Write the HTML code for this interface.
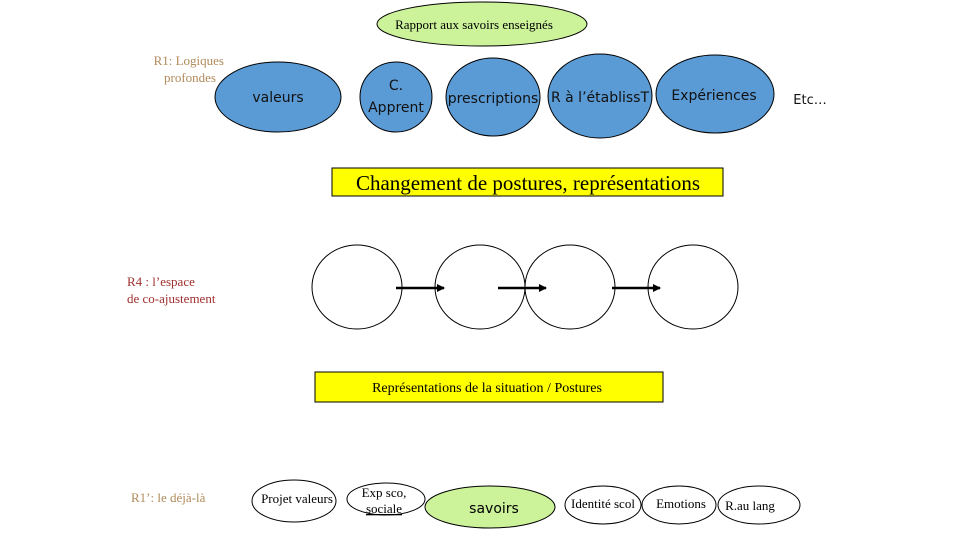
<!DOCTYPE html>
<html><head><meta charset="utf-8"><style>
html,body{margin:0;padding:0;background:#fff;}
svg{display:block;}
.s{font-family:"Liberation Serif",serif;}
.a{font-family:"DejaVu Sans","Liberation Sans",sans-serif;}
</style></head><body>
<svg width="960" height="540" viewBox="0 0 960 540" xmlns="http://www.w3.org/2000/svg">
<defs><marker id="ar" markerWidth="8" markerHeight="8" refX="7" refY="4" orient="auto" markerUnits="userSpaceOnUse"><path d="M0,0 L8,4 L0,8 z" fill="#000"/></marker></defs>
<ellipse cx="482" cy="24" rx="105" ry="22" fill="#ccf29a" stroke="#000" stroke-width="1"/>
<text x="474" y="29" class="s" font-size="13" text-anchor="middle">Rapport aux savoirs enseignés</text>
<text x="224" y="65" class="s" font-size="13" fill="#b08a5a" text-anchor="end">R1: Logiques</text>
<text x="216" y="82" class="s" font-size="13" fill="#b08a5a" text-anchor="end">profondes</text>
<g fill="#5b9bd5" stroke="#000" stroke-width="1">
<ellipse cx="278" cy="97" rx="63" ry="35"/>
<ellipse cx="396" cy="97" rx="36" ry="35"/>
<ellipse cx="493" cy="97" rx="47" ry="39"/>
<ellipse cx="600" cy="96" rx="52" ry="42"/>
<ellipse cx="715" cy="94" rx="59" ry="39"/>
</g>
<g class="a" font-size="14" fill="#111" text-anchor="middle">
<text x="278" y="102">valeurs</text>
<text x="396" y="90">C.</text>
<text x="396" y="112">Apprent</text>
<text x="493" y="103">prescriptions</text>
<text x="600" y="102">R à l’établissT</text>
<text x="714" y="100">Expériences</text>
<text x="810" y="104" font-size="13">Etc…</text>
</g>
<rect x="332" y="168" width="391" height="28" fill="#ffff00" stroke="#000" stroke-width="1"/>
<text x="528" y="190" class="s" font-size="21" text-anchor="middle">Changement de postures,  représentations</text>
<text x="127" y="286" class="s" font-size="13" fill="#a0302f">R4 : l’espace</text>
<text x="127" y="303" class="s" font-size="13" fill="#a0302f">de co-ajustement</text>
<g fill="none" stroke="#000" stroke-width="1">
<ellipse cx="357" cy="287" rx="45" ry="42"/>
<ellipse cx="480" cy="287" rx="45" ry="42"/>
<ellipse cx="570" cy="287" rx="45" ry="42"/>
<ellipse cx="693" cy="287" rx="45" ry="42"/>
</g>
<g stroke="#000" stroke-width="2.5" marker-end="url(#ar)">
<line x1="396" y1="288" x2="444" y2="288"/>
<line x1="498" y1="288" x2="546" y2="288"/>
<line x1="612" y1="288" x2="660" y2="288"/>
</g>
<rect x="315" y="372" width="348" height="30" fill="#ffff00" stroke="#000" stroke-width="1"/>
<text x="487" y="392" class="s" font-size="14" text-anchor="middle">Représentations de la situation /  Postures</text>
<text x="131" y="502" class="s" font-size="13" fill="#b08a5a">R1’: le déjà-là</text>
<g stroke="#000" stroke-width="1" fill="#fff">
<ellipse cx="294" cy="501" rx="42" ry="21"/>
<ellipse cx="386" cy="499" rx="39" ry="16"/>
<ellipse cx="490" cy="507" rx="65" ry="21" fill="#ccf29a"/>
<ellipse cx="603" cy="505" rx="38" ry="19"/>
<ellipse cx="679" cy="505" rx="37" ry="19"/>
<ellipse cx="759" cy="505" rx="41" ry="19"/>
</g>
<g class="s" font-size="13" text-anchor="middle">
<text x="297" y="503">Projet valeurs</text>
<text x="384" y="497">Exp sco,</text>
<text x="384" y="513" text-decoration="underline">sociale</text>
<text x="603" y="508">Identité scol</text>
<text x="681" y="508">Emotions</text>
<text x="750" y="510">R.au lang</text>
</g>
<text x="494" y="513" class="a" font-size="14" text-anchor="middle">savoirs</text>
</svg>
</body></html>
